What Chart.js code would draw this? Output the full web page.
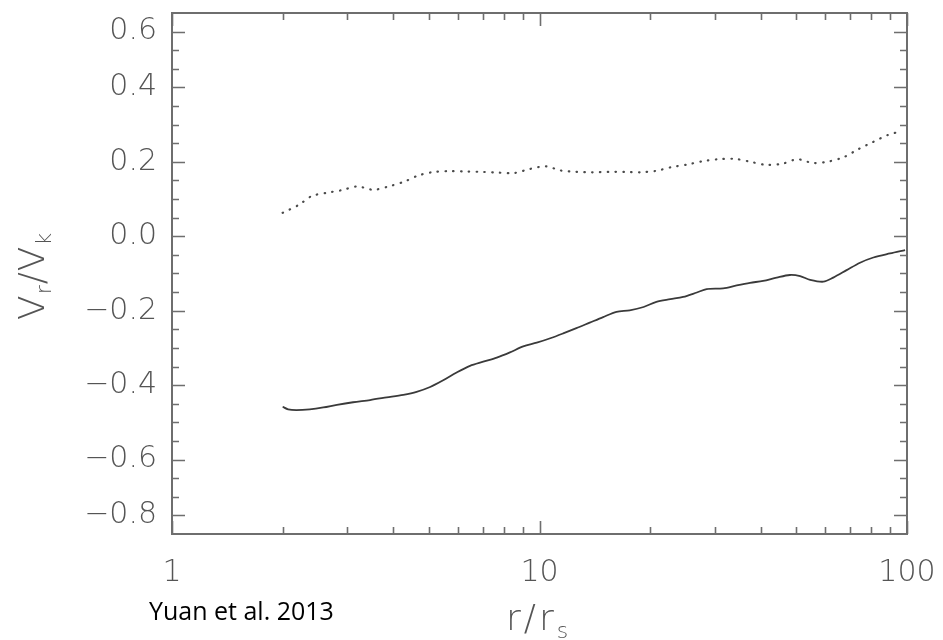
<!DOCTYPE html>
<html>
<head>
<meta charset="utf-8">
<script src="https://cdn.jsdelivr.net/npm/chart.js@4.4.1/dist/chart.umd.min.js"></script>
<style>
    html, body { margin: 0; padding: 0; background: #fff; }
    #wrap { width: 943px; height: 640px; position: relative; }
</style>
</head>
<body>
<div id="wrap"><canvas id="vrChart" width="943" height="640"></canvas></div>
<script>
// --- Data ---
const rSolid = [2.00, 2.07, 2.18, 2.37, 2.58, 2.81, 3.11, 3.46, 3.84, 4.26, 4.63, 5.04, 5.47, 5.95,
    6.47, 7.03, 7.65, 8.31, 9.03, 9.83, 10.7, 11.6, 12.6, 13.7, 14.9, 16.2, 17.6, 19.2, 20.8,
    22.7, 24.6, 26.8, 28.5, 31.6, 34.4, 37.4, 40.6, 44.2, 48.0, 51.2, 54.5, 59.2, 63.0, 68.5,
    74.5, 81.0, 89.9, 98.8];
const vSolid = [-0.458, -0.465, -0.467, -0.465, -0.460, -0.453, -0.446, -0.440, -0.433, -0.426,
    -0.418, -0.405, -0.387, -0.366, -0.348, -0.337, -0.326, -0.312, -0.296, -0.286, -0.274,
    -0.261, -0.247, -0.232, -0.217, -0.203, -0.199, -0.190, -0.176, -0.169, -0.163, -0.151,
    -0.142, -0.140, -0.132, -0.125, -0.120, -0.111, -0.104, -0.107, -0.117, -0.122, -0.111,
    -0.091, -0.071, -0.057, -0.046, -0.037];

const rDotted = [2.00, 2.21, 2.40, 2.64, 2.90, 3.19, 3.53, 3.89, 4.29, 4.70, 5.17, 5.71, 6.34,
    6.99, 7.73, 8.54, 9.42, 10.4, 11.4, 12.6, 13.9, 15.4, 17.1, 18.9, 20.8, 22.9, 25.3, 27.9,
    30.8, 34.0, 37.6, 41.3, 45.8, 50.3, 55.4, 61.2, 67.4, 73.7, 80.7, 88.6, 97.1];
const vDotted = [0.063, 0.084, 0.108, 0.117, 0.124, 0.134, 0.125, 0.134, 0.147, 0.164, 0.173,
    0.175, 0.174, 0.173, 0.171, 0.170, 0.181, 0.188, 0.177, 0.173, 0.172, 0.173, 0.173, 0.172,
    0.176, 0.186, 0.193, 0.202, 0.207, 0.208, 0.200, 0.192, 0.195, 0.207, 0.197, 0.201, 0.213,
    0.234, 0.253, 0.272, 0.283];

// --- Axes ---
const xTicks = [1, 2, 3, 4, 5, 6, 7, 8, 9, 10, 20, 30, 40, 50, 60, 70, 80, 90, 100];
const xLabelAt = [1, 10, 100];
const yTicks = [-0.75, -0.7, -0.65, -0.6, -0.55, -0.5, -0.45, -0.4, -0.35, -0.3, -0.25, -0.2,
    -0.15, -0.1, -0.05, 0, 0.05, 0.1, 0.15, 0.2, 0.25, 0.3, 0.35, 0.4, 0.45, 0.5, 0.55];
const yLabelAt = [-0.75, -0.6, -0.4, -0.2, 0, 0.2, 0.4, 0.55];
const yLabelText = ['\u22120.8', '\u22120.6', '\u22120.4', '\u22120.2', '0.0', '0.2', '0.4', '0.6'];

const axisColor = '#555';
const tickFont = { family: "'DejaVu Sans', sans-serif", size: 30, weight: '200' };

function yLabelFor(v) {
    const i = yLabelAt.findIndex(p => Math.abs(p - v) < 1e-6);
    return i >= 0 ? yLabelText[i] : '';
}

// frame + inward ticks on all four sides, IDL style
const framePlugin = {
    id: 'frame',
    afterDatasetsDraw(chart) {
        const { ctx, chartArea: a, scales: { x, y } } = chart;
        ctx.save();
        ctx.strokeStyle = '#6e6e6e';
        ctx.lineWidth = 2;
        ctx.strokeRect(a.left, a.top, a.right - a.left, a.bottom - a.top);

        ctx.lineWidth = 1.6;
        ctx.beginPath();
        yTicks.forEach(v => {
            const py = Math.round(y.getPixelForValue(v)) + 0.5;
            const len = yLabelAt.some(p => Math.abs(p - v) < 1e-6) ? 13 : 7;
            ctx.moveTo(a.left, py); ctx.lineTo(a.left + len, py);
            ctx.moveTo(a.right, py); ctx.lineTo(a.right - len, py);
        });
        xTicks.forEach(v => {
            const px = Math.round(x.getPixelForValue(v)) + 0.5;
            const len = xLabelAt.includes(v) ? 13 : 7;
            ctx.moveTo(px, a.bottom); ctx.lineTo(px, a.bottom - len);
            ctx.moveTo(px, a.top); ctx.lineTo(px, a.top + len);
        });
        ctx.stroke();
        ctx.restore();
    },
    afterDraw(chart) {
        const { ctx } = chart;
        const big = "200 36px 'DejaVu Sans', sans-serif";
        const small = "200 22px 'DejaVu Sans', sans-serif";

        // y title: V_r / V_k (rotated)
        ctx.save();
        ctx.fillStyle = axisColor;
        ctx.textBaseline = 'alphabetic';
        ctx.translate(44, 320);
        ctx.rotate(-Math.PI / 2);
        let cx = 0;
        [['V', big, 0], ['r', small, 7], ['/', big, 0], ['V', big, 0], ['k', small, 7]].forEach(([t, f, dy]) => {
            ctx.font = f;
            ctx.fillText(t, cx, dy);
            cx += ctx.measureText(t).width + 1;
        });
        ctx.restore();

        // x title: r / r_s
        ctx.save();
        ctx.fillStyle = axisColor;
        ctx.textBaseline = 'alphabetic';
        cx = 506;
        [['r', big, 0], ['/', big, 0], ['r', big, 0], ['s', small, 8]].forEach(([t, f, dy]) => {
            ctx.font = f;
            ctx.fillText(t, cx, 630 + dy);
            cx += ctx.measureText(t).width + 3;
        });

        // citation
        ctx.fillStyle = '#000';
        ctx.font = "25px 'Open Sans', sans-serif";
        ctx.fillText('Yuan et al. 2013', 149, 620);
        ctx.restore();
    }
};

document.addEventListener('DOMContentLoaded', () => {
    const ctx = document.getElementById('vrChart').getContext('2d');

    new Chart(ctx, {
        type: 'line',
        data: {
            datasets: [{
                label: 'solid',
                data: rSolid.map((r, i) => ({ x: r, y: vSolid[i] })),
                borderColor: '#3a3a3a',
                borderWidth: 1.8,
                pointRadius: 0,
                tension: 0.3
            }, {
                label: 'dotted',
                data: rDotted.map((r, i) => ({ x: r, y: vDotted[i] })),
                borderColor: '#4a4a4a',
                borderWidth: 2.2,
                borderDash: [0.5, 7.3],
                borderCapStyle: 'round',
                pointRadius: 0,
                tension: 0.3
            }]
        },
        options: {
            responsive: false,
            animation: false,
            layout: { padding: { top: 13, right: 36, left: 0, bottom: 0 } },
            plugins: {
                legend: { display: false },
                tooltip: { enabled: false }
            },
            scales: {
                x: {
                    type: 'logarithmic',
                    min: 1,
                    max: 100,
                    afterBuildTicks: scale => { scale.ticks = xTicks.map(v => ({ value: v })); },
                    afterFit: scale => {
                        scale.height = 106;
                        scale.paddingLeft = 0;
                        scale.paddingRight = 0;
                    },
                    grid: { display: false, drawTicks: false },
                    border: { display: false },
                    ticks: {
                        autoSkip: false,
                        maxRotation: 0,
                        padding: 21,
                        color: axisColor,
                        font: tickFont,
                        callback: v => xLabelAt.includes(v) ? String(v) : ''
                    }
                },
                y: {
                    type: 'linear',
                    min: -0.8,
                    max: 0.6,
                    afterBuildTicks: scale => { scale.ticks = yTicks.map(v => ({ value: v })); },
                    afterFit: scale => {
                        scale.width = 172;
                        scale.paddingTop = 0;
                        scale.paddingBottom = 0;
                    },
                    grid: { display: false, drawTicks: false },
                    border: { display: false },
                    ticks: {
                        autoSkip: false,
                        padding: 15,
                        color: axisColor,
                        font: tickFont,
                        callback: v => yLabelFor(v)
                    }
                }
            }
        },
        plugins: [framePlugin]
    });
});
</script>
</body>
</html>
